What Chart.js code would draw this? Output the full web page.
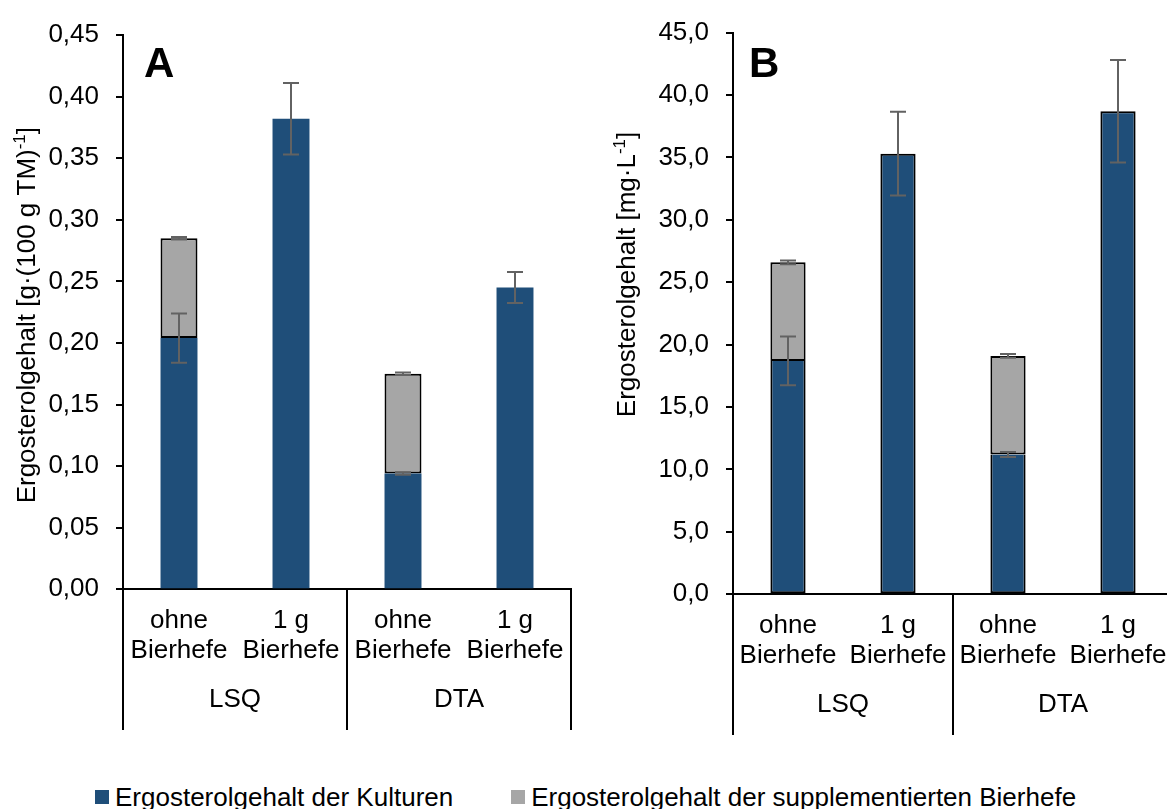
<!DOCTYPE html>
<html lang="de">
<head>
<meta charset="utf-8">
<title>Ergosterolgehalt</title>
<script src="https://cdn.jsdelivr.net/npm/chart.js@4.4.1/dist/chart.umd.min.js"></script>
<style>
  html, body { margin: 0; padding: 0; background: #fff; overflow: hidden; }
  #page { position: relative; width: 1167px; height: 809px; overflow: hidden;
          font-family: 'Liberation Sans', Arial, sans-serif; color: #000; }
  #boxA { position: absolute; left: 0; top: 0; }
  #boxB { position: absolute; left: 600px; top: 0; }
  #legend { position: absolute; left: 95px; top: 782px; display: flex; gap: 58px;
            font-size: 26px; line-height: 30px; white-space: nowrap; }
  .item { display: flex; align-items: center; }
  .swatch { width: 14px; height: 14px; margin-right: 6px; }
</style>
</head>
<body>
<div id="page">
  <div id="boxA"><canvas id="chartA" width="600" height="745"></canvas></div>
  <div id="boxB"><canvas id="chartB" width="600" height="745"></canvas></div>
  <div id="legend"></div>
</div>
<script>
// --- Data ---
const groups = ['LSQ', 'DTA'];
const subLabels = [['ohne', 'Bierhefe'], ['1 g', 'Bierhefe'], ['ohne', 'Bierhefe'], ['1 g', 'Bierhefe']];
const seriesNames = ['Ergosterolgehalt der Kulturen', 'Ergosterolgehalt der supplementierten Bierhefe'];

// Panel A: g per 100 g TM
const kulturenA = [0.204, 0.382, 0.094, 0.245];
const kulturenErrA = [0.020, 0.029, 0.001, 0.0125];
const bierhefeA = [0.081, null, 0.081, null];
const bierhefeErrA = [0.001, null, 0.001, null];
const yTicksA = [0, 0.05, 0.10, 0.15, 0.20, 0.25, 0.30, 0.35, 0.40, 0.45];

// Panel B: mg per L
const kulturenB = [18.7, 35.3, 11.2, 38.7];
const kulturenErrB = [1.95, 3.35, 0.2, 4.1];
const bierhefeB = [7.9, null, 7.9, null];
const bierhefeErrB = [0.15, null, 0.15, null];
const yTicksB = [0, 5, 10, 15, 20, 25, 30, 35, 40, 45];

const FONT = "'Liberation Sans', Arial, sans-serif";
const BLUE = '#1f4e79';
const GREY = '#a6a6a6';

Chart.defaults.font.family = FONT;
Chart.defaults.font.size = 26;
Chart.defaults.color = '#000';

// --- Plugins ---
// error bars on top of each stacked segment
const errorBars = {
  id: 'errorBars',
  afterDatasetsDraw(chart) {
    const { ctx } = chart;
    const y = chart.scales.y;
    ctx.save();
    ctx.strokeStyle = '#626262';
    ctx.lineWidth = 2;
    chart.data.datasets.forEach((ds, di) => {
      const meta = chart.getDatasetMeta(di);
      meta.data.forEach((bar, i) => {
        const err = ds.errors[i];
        if (ds.data[i] == null || err == null) return;
        let total = 0;
        for (let k = 0; k <= di; k++) total += chart.data.datasets[k].data[i] || 0;
        const hi = y.getPixelForValue(total + err);
        const lo = y.getPixelForValue(total - err);
        ctx.beginPath();
        ctx.moveTo(bar.x, hi); ctx.lineTo(bar.x, lo);
        ctx.moveTo(bar.x - 8, hi); ctx.lineTo(bar.x + 8, hi);
        ctx.moveTo(bar.x - 8, lo); ctx.lineTo(bar.x + 8, lo);
        ctx.stroke();
      });
    });
    ctx.restore();
  }
};

// group separators of the two-level category axis
const groupLines = {
  id: 'groupLines',
  afterDraw(chart, args, opts) {
    const { ctx } = chart;
    const x = chart.scales.x, x2 = chart.scales.x2;
    const half = (x2.getPixelForValue(1) - x2.getPixelForValue(0)) / 2;
    const edges = [x2.getPixelForValue(0) - half];
    groups.forEach((g, i) => edges.push(x2.getPixelForValue(i) + half));
    ctx.save();
    ctx.strokeStyle = '#000';
    ctx.lineWidth = 2;
    edges.forEach(px => {
      ctx.beginPath();
      ctx.moveTo(Math.round(px), x.top);
      ctx.lineTo(Math.round(px), x2.bottom + opts.tail);
      ctx.stroke();
    });
    ctx.restore();
  }
};

// panel letter and the rotated y title with superscript
const panelText = {
  id: 'panelText',
  afterDraw(chart, args, opts) {
    const { ctx, chartArea } = chart;
    ctx.save();
    ctx.fillStyle = '#000';
    ctx.font = 'bold 42px ' + FONT;
    ctx.textBaseline = 'alphabetic';
    ctx.fillText(opts.letter, chartArea.left + opts.letterDx, 77);

    const mainFont = '26px ' + FONT, supFont = '17px ' + FONT;
    let width = 0;
    opts.title.forEach(p => { ctx.font = p.sup ? supFont : mainFont; width += ctx.measureText(p.text).width; });
    const yc = (chartArea.top + chartArea.bottom) / 2 + opts.titleShift;
    ctx.translate(opts.titleX, yc);
    ctx.rotate(-Math.PI / 2);
    let cx = -width / 2;
    opts.title.forEach(p => {
      ctx.font = p.sup ? supFont : mainFont;
      ctx.fillText(p.text, cx, p.sup ? -10 : 0);
      cx += ctx.measureText(p.text).width;
    });
    ctx.restore();
  }
};

function makeChart(id, cfg) {
  return new Chart(document.getElementById(id), {
    type: 'bar',
    data: {
      labels: subLabels,
      datasets: [
        {
          label: seriesNames[0], data: cfg.kulturen, errors: cfg.kulturenErr,
          backgroundColor: BLUE, borderColor: cfg.blueBorder, borderWidth: cfg.blueBorderWidth,
          // the grey segment above already draws the dividing line
          borderSkipped: c => (cfg.bierhefe[c.dataIndex] != null ? 'top' : false),
          barPercentage: cfg.barPct, categoryPercentage: 1
        },
        {
          label: seriesNames[1], data: cfg.bierhefe, errors: cfg.bierhefeErr,
          backgroundColor: GREY, borderColor: '#000', borderWidth: 2,
          borderSkipped: false, barPercentage: cfg.barPct, categoryPercentage: 1
        }
      ]
    },
    options: {
      responsive: false,
      animation: false,
      layout: { padding: { left: 0, top: cfg.padTop, right: cfg.padRight, bottom: cfg.padBottom } },
      plugins: {
        legend: { display: false },
        tooltip: { enabled: false },
        groupLines: { tail: cfg.lineTail },
        panelText: { letter: cfg.letter, letterDx: cfg.letterDx, title: cfg.title, titleX: 35, titleShift: cfg.titleShift }
      },
      scales: {
        x: {
          stacked: true,
          offset: true,
          grid: { display: false, drawTicks: false },
          border: { display: true, color: '#000', width: 2 },
          ticks: { padding: 17, maxRotation: 0, autoSkip: false, font: { size: 26, lineHeight: 1.15 } }
        },
        x2: {
          type: 'category',
          position: 'bottom',
          weight: 1,
          labels: groups,
          offset: true,
          grid: { display: false, drawTicks: false },
          border: { display: false },
          ticks: { padding: 2, font: { size: 26, lineHeight: 1.15 } }
        },
        y: {
          stacked: true,
          min: cfg.yTicks[0],
          max: cfg.yTicks[cfg.yTicks.length - 1],
          afterBuildTicks: s => { s.ticks = cfg.yTicks.map(v => ({ value: v })); },
          afterFit: s => { s.width = cfg.yWidth; },
          grid: { display: true, drawOnChartArea: false, drawTicks: true, tickLength: 7, color: '#000', lineWidth: 2 },
          border: { display: true, color: '#000', width: 2 },
          ticks: {
            padding: 17,
            font: { size: 26 },
            callback: v => v.toFixed(cfg.decimals).replace('.', ',')
          }
        }
      }
    },
    plugins: [errorBars, groupLines, panelText]
  });
}

const chartA = makeChart('chartA', {
  kulturen: kulturenA, kulturenErr: kulturenErrA, bierhefe: bierhefeA, bierhefeErr: bierhefeErrA,
  yTicks: yTicksA, decimals: 2, yWidth: 123, padTop: 35, padRight: 29, padBottom: 28,
  barPct: 0.33, blueBorder: BLUE, blueBorderWidth: 0, lineTail: 13,
  letter: 'A', letterDx: 21, titleShift: 3,
  title: [{ text: 'Ergosterolgehalt [g·(100 g TM)' }, { text: '-1', sup: true }, { text: ']' }]
});

const chartB = makeChart('chartB', {
  kulturen: kulturenB, kulturenErr: kulturenErrB, bierhefe: bierhefeB, bierhefeErr: bierhefeErrB,
  yTicks: yTicksB, decimals: 1, yWidth: 133, padTop: 25, padRight: 27, padBottom: 23,
  barPct: 0.32, blueBorder: '#000', blueBorderWidth: 2, lineTail: 13,
  letter: 'B', letterDx: 16, titleShift: -39,
  title: [{ text: 'Ergosterolgehalt [mg·L' }, { text: '-1', sup: true }, { text: ']' }]
});

// shared legend under both panels
const legendEl = document.getElementById('legend');
Chart.defaults.plugins.legend.labels.generateLabels(chartA).forEach(item => {
  const el = document.createElement('div');
  el.className = 'item';
  const sw = document.createElement('span');
  sw.className = 'swatch';
  sw.style.background = item.fillStyle;
  const tx = document.createElement('span');
  tx.textContent = item.text;
  el.append(sw, tx);
  legendEl.append(el);
});
</script>
</body>
</html>
